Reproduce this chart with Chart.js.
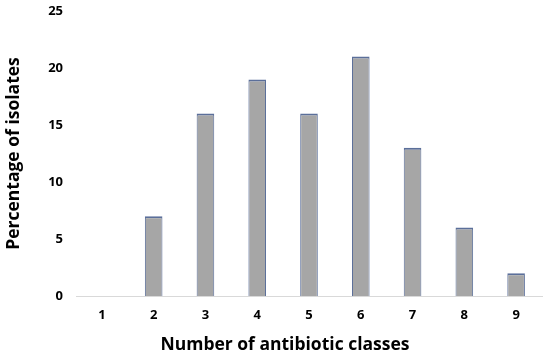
<!DOCTYPE html>
<html>
<head>
<meta charset="utf-8">
<script src="https://cdn.jsdelivr.net/npm/chart.js@4"></script>
<style>
  html, body { margin: 0; padding: 0; background: #fff; }
  #wrap { width: 550px; height: 356px; }
</style>
</head>
<body>
<div id="wrap"><canvas id="myChart" width="550" height="356"></canvas></div>
<script>
const classes = ["1", "2", "3", "4", "5", "6", "7", "8", "9"];
const percentages = [0, 7, 16, 19, 16, 21, 13, 6, 2];
const yTicks = [0, 5, 10, 15, 20, 25];

const font = "'Open Sans', 'DejaVu Sans', sans-serif";

// shaded fill like the bevelled columns
function barFill(context) {
  const el = context.element;
  const ctx = context.chart.ctx;
  if (!el || el.x === undefined || isNaN(el.x)) return "#a6a6a6";
  const half = el.width / 2;
  const g = ctx.createLinearGradient(el.x - half, 0, el.x + half, 0);
  g.addColorStop(0, "#8e8e8e");
  g.addColorStop(0.15, "#b2b2b2");
  g.addColorStop(0.8, "#adadad");
  g.addColorStop(1, "#555555");
  return g;
}

new Chart(document.getElementById("myChart").getContext("2d"), {
  type: "bar",
  data: {
    labels: classes,
    datasets: [
      {
        label: "Percentage of isolates",
        data: percentages,
        backgroundColor: barFill,
        borderColor: "#5b6f9a",
        borderWidth: { top: 2, left: 1, right: 1, bottom: 0 },
        barPercentage: 0.34,
        categoryPercentage: 1,
      },
    ],
  },
  options: {
    responsive: false,
    animation: false,
    layout: { padding: { top: 11, right: 0, left: 20, bottom: 0 } },
    plugins: {
      legend: { display: false },
      tooltip: { enabled: false },
      title: {
        display: true,
        position: "bottom",
        text: "Number of antibiotic classes",
        color: "#000",
        font: { family: font, size: 17.5, weight: "bold" },
        padding: { top: 0, bottom: 0 },
      },
    },
    scales: {
      x: {
        grid: { display: false, drawTicks: false },
        border: { display: true, color: "#d9d9d9", width: 1 },
        ticks: {
          color: "#000",
          font: { family: font, size: 13, weight: "bold" },
          padding: 11,
        },
        afterFit: (axis) => {
          axis.height = 39;
          axis.paddingRight = 8;
        },
      },
      y: {
        min: 0,
        max: 25,
        afterBuildTicks: (axis) => {
          axis.ticks = yTicks.map((v) => ({ value: v }));
        },
        afterFit: (axis) => {
          axis.width = 56;
          axis.paddingTop = 0;
          axis.paddingBottom = 0;
        },
        grid: { display: false, drawTicks: false },
        border: { display: false },
        ticks: {
          color: "#000",
          font: { family: font, size: 13, weight: "bold" },
          padding: 13,
        },
        title: {
          display: true,
          text: "Percentage of isolates",
          color: "#000",
          font: { family: font, size: 17.5, weight: "bold" },
          padding: { top: -16, bottom: 0 },
        },
      },
    },
  },
});
</script>
</body>
</html>
